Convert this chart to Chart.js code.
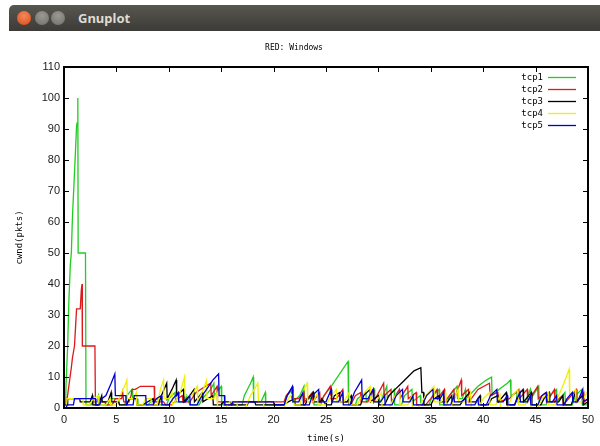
<!DOCTYPE html>
<html>
<head>
<meta charset="utf-8">
<title>Gnuplot</title>
<script src="https://cdn.jsdelivr.net/npm/chart.js@4"></script>
<style>
body{
    margin:0;
    width:600px;
    height:446px;
    overflow:hidden;
    position:relative;
    background:#fff;
}
#bar{
    position:absolute;
    left:9px;
    top:5px;
    width:591px;
    height:26px;
    background:linear-gradient(#57564f,#3c3b37);
    border-radius:5px 0 0 0;
}
.btn{
    position:absolute;
    top:6px;
    width:14px;
    height:14px;
    border-radius:50%;
}
#close{ left:8px; background:radial-gradient(circle at 50% 35%,#f58a5c,#dd4814); }
#min{ left:26px; background:radial-gradient(circle at 50% 35%,#9a9993,#6f6e69); }
#max{ left:42px; background:radial-gradient(circle at 50% 35%,#9a9993,#6f6e69); }
#name{
    position:absolute;
    left:69px;
    top:4px;
    font:bold 13px "Noto Sans";
    color:#dfdbd2;
}
#wrap{
    position:absolute;
    left:0;
    top:31px;
    width:600px;
    height:415px;
}
</style>
</head>
<body>
<div id="bar">
    <div class="btn" id="close"></div>
    <div class="btn" id="min"></div>
    <div class="btn" id="max"></div>
    <div id="name">Gnuplot</div>
</div>
<div id="wrap"><canvas id="cwndChart"></canvas></div>
<script>

// [time (s), cwnd (pkts)] per flow
let tcp1 = [
    [0,1],[0.15,1],[0.2,8],[0.35,20],[0.46,34],[0.6,46],[0.7,50],[0.81,62],[0.95,72],
    [1.07,81],[1.2,91],[1.25,92],[1.32,100],[1.35,50],[2.05,50],[2.1,1],[2.6,1],
    [2.7,2],[3.2,2],[3.3,4],[3.5,1],[4.2,1],[4.4,3],[5.2,3],[5.3,1],[5.8,1],[6.0,4],
    [6.5,6],[6.55,3],[7.0,3],[7.05,1],[8.0,1],[8.3,2],[9.0,3],[9.05,1],[9.8,1],
    [10.0,3],[10.6,5],[10.65,2],[11.5,2],[11.7,4],[12.0,1],[12.9,1],[13.2,3],
    [14.0,6],[14.3,8],[14.35,4],[15.0,7],[15.05,1],[17.0,1],[17.2,4],[17.8,8],
    [18.05,10],[18.1,2],[18.8,2],[19.2,5],[19.25,1],[21.0,1],[21.3,4],[21.8,6],
    [21.85,2],[22.5,4],[22.9,7],[22.95,3],[23.5,3],[23.8,5],[23.85,1],[24.5,1],
    [24.8,4],[25.5,7],[26.3,11],[27.1,15],[27.15,1],[27.8,1],[28.0,3],[28.8,5],
    [28.85,2],[29.6,6],[29.65,2],[30.2,2],[30.8,7],[30.85,3],[31.5,6],[31.55,1],
    [32.2,1],[32.5,4],[33.2,6],[33.25,2],[34.0,4],[34.05,1],[34.8,1],[35.2,4],
    [35.8,6],[35.85,1],[36.5,1],[36.8,4],[37.5,7],[37.55,3],[38.0,3],[38.3,6],
    [38.35,3],[39.5,7],[40.3,9],[40.8,10],[40.85,4],[41.5,6],[42.3,8],[42.6,9],
    [42.65,4],[43.2,5],[43.25,2],[44.0,2],[44.5,6],[44.55,3],[45.3,7],[45.35,1],
    [46.0,1],[46.4,4],[47.0,6],[47.05,2],[47.8,5],[47.85,1],[48.5,1],[48.8,4],
    [49.4,6],[49.45,1],[50,1]
]

let tcp2 = [
    [0,1],[0.2,1],[0.3,3],[0.5,8],[0.7,13],[0.8,16],[1.0,20],[1.1,26],[1.2,32],
    [1.55,32],[1.65,38],[1.72,40],[1.75,20],[2.95,20],[3.0,1],[3.3,1],[3.4,2],
    [3.9,2],[4.0,1],[4.6,1],[4.9,3],[5.5,3],[5.6,5],[5.7,2],[6.2,2],[6.4,4],
    [6.5,6],[6.8,6],[7.3,7],[8.6,7],[8.65,2],[9.5,2],[9.7,1],[10.3,1],[10.8,3],
    [11.3,4],[11.35,2],[12.0,2],[12.6,5],[13.5,7],[14.0,8],[14.05,4],[14.6,7],
    [14.65,2],[15.2,2],[15.3,1],[16.0,1],[16.3,2],[21.0,2],[21.2,4],[21.7,6],
    [21.75,3],[22.4,3],[22.9,5],[22.95,2],[23.7,5],[23.75,2],[24.4,5],[24.45,2],
    [25.4,7],[25.45,3],[26.0,3],[26.6,6],[26.65,2],[27.5,2],[27.8,4],[28.3,5],
    [28.35,2],[29.0,2],[29.5,6],[29.55,2],[30.5,8],[30.55,4],[31.2,6],[31.25,2],
    [32.0,6],[32.05,3],[32.8,7],[32.85,3],[33.6,5],[33.65,1],[34.5,1],[35.0,3],
    [35.6,6],[35.65,3],[36.3,6],[36.35,2],[37.2,6],[37.25,3],[37.9,9],[37.95,4],
    [38.6,6],[38.65,2],[39.5,6],[40.6,8],[40.65,4],[41.4,5],[41.45,2],[42.5,3],
    [43.4,6],[43.45,3],[44.2,6],[44.25,2],[45.2,7],[45.25,3],[46.0,5],[46.05,2],
    [46.8,6],[46.85,2],[47.6,4],[47.65,1],[48.4,4],[48.9,6],[48.95,2],[49.6,5],
    [49.65,2],[50,3]
]

let tcp3 = [
    [0,1],[0.3,1],[0.35,3],[1.5,3],[1.55,2],[2.5,2],[2.7,4],[2.75,1],[3.3,1],
    [3.6,4],[3.65,2],[4.2,2],[4.5,5],[4.55,2],[5.2,2],[5.3,1],[6.0,1],[6.2,3],
    [6.9,3],[6.95,1],[7.5,1],[8.0,2],[8.5,3],[8.55,1],[9.0,1],[9.3,4],[9.8,8],
    [9.85,3],[10.3,6],[10.7,9],[10.75,4],[11.4,6],[11.45,2],[12.0,4],[12.4,6],
    [12.45,2],[13.2,5],[13.25,2],[14.2,4],[14.25,1],[15.0,1],[15.2,2],[15.9,2],
    [16.0,1],[17.5,1],[17.6,2],[18.2,2],[18.3,1],[21.0,1],[21.4,2],[22.0,3],
    [22.05,1],[23.0,1],[23.3,3],[23.8,5],[23.85,2],[24.5,2],[24.6,3],[25.0,1],
    [25.5,1],[25.8,4],[26.3,5],[26.35,2],[27.0,2],[27.4,4],[27.45,1],[28.3,1],
    [28.6,4],[29.2,6],[29.25,2],[30.0,4],[30.05,1],[30.6,1],[31.0,4],[31.6,6],
    [32.2,8],[32.8,10],[33.4,12],[34.05,13],[34.15,5],[34.3,5],[34.35,1],[35.0,1],
    [35.3,3],[35.8,4],[35.85,2],[36.6,2],[37.0,4],[37.05,1],[37.8,1],[38.2,3],
    [38.7,5],[38.75,2],[39.3,2],[39.7,4],[39.75,1],[40.5,1],[40.8,3],[41.4,4],
    [41.45,2],[42.2,5],[42.25,1],[43.0,1],[43.3,4],[43.8,6],[43.85,2],[44.6,5],
    [44.65,1],[45.5,1],[45.8,3],[46.3,5],[46.35,2],[47.2,2],[47.6,4],[47.65,1],
    [48.4,1],[48.8,5],[48.85,2],[49.5,4],[49.55,1],[50,2]
]

let tcp4 = [
    [0,0],[0.2,0],[0.3,3],[1.8,3],[1.85,1],[2.4,1],[2.8,3],[3.3,4],[3.35,1],
    [4.0,1],[4.4,3],[4.45,1],[5.0,1],[5.5,5],[5.9,8],[6.0,9],[6.05,3],[6.6,3],
    [6.9,5],[6.95,1],[7.5,1],[7.8,3],[8.3,3],[8.35,1],[8.9,1],[9.2,6],[9.5,9],
    [9.55,3],[10.0,3],[10.3,5],[10.35,1],[11.0,4],[11.5,10],[11.55,4],[12.2,4],
    [12.7,7],[12.75,2],[13.3,6],[13.6,9],[13.65,3],[14.3,3],[14.6,5],[14.65,0],
    [15.4,0],[15.8,2],[16.5,2],[16.55,0],[17.3,0],[17.8,4],[18.5,8],[18.55,2],
    [19.0,2],[19.1,0],[21.0,0],[21.4,3],[21.9,5],[21.95,1],[22.5,1],[22.9,6],
    [23.2,8],[23.25,2],[23.8,2],[24.2,5],[24.25,1],[25.0,1],[25.5,4],[26.0,6],
    [26.05,2],[26.7,2],[27.2,5],[27.25,1],[28.0,1],[28.4,4],[29.2,7],[29.25,2],
    [29.8,2],[30.3,5],[30.35,0],[31.0,0],[31.6,4],[32.0,5],[32.05,1],[32.8,1],
    [33.2,4],[33.25,0],[33.8,0],[34.5,4],[35.3,7],[35.35,2],[36.0,2],[36.4,5],
    [36.45,1],[37.0,1],[37.6,6],[37.65,2],[38.5,2],[38.8,5],[38.85,0],[39.5,0],
    [40.0,3],[40.6,5],[40.65,1],[41.2,1],[41.6,4],[41.65,0],[42.3,0],[42.8,4],
    [43.3,6],[43.35,1],[44.0,1],[44.5,4],[44.55,0],[45.2,0],[45.6,3],[46.2,5],
    [46.25,1],[46.9,1],[47.2,4],[47.7,8],[48.2,12.5],[48.25,4],[48.8,6],[48.85,2],
    [49.4,2],[49.9,5],[50,5]
]

let tcp5 = [
    [0,0],[0.2,0],[0.3,1],[0.9,1],[1.0,3],[3.0,3],[3.05,1],[3.4,1],[3.6,3],
    [4.0,4],[4.5,8],[4.85,11],[4.9,4],[5.9,4],[5.95,1],[6.6,1],[6.7,4],[7.8,4],
    [7.85,1],[8.5,1],[8.8,3],[9.3,4],[9.35,1],[10.0,1],[10.4,3],[10.9,5],
    [10.95,2],[11.6,2],[12.0,4],[12.05,1],[12.7,1],[13.0,3],[13.6,6],[14.2,9],
    [14.75,11],[14.8,4],[15.3,4],[15.35,1],[16.0,1],[16.1,2],[20.0,2],[20.05,1],
    [21.0,1],[21.3,4],[21.8,7],[21.85,2],[22.4,2],[22.8,5],[22.85,1],[23.4,1],
    [23.7,4],[24.3,6],[24.35,2],[25.0,2],[25.5,6],[25.55,2],[26.2,2],[26.6,5],
    [26.65,1],[27.3,1],[27.7,5],[28.4,9],[28.45,3],[29.0,3],[29.5,6],[29.55,2],
    [30.2,2],[30.6,4],[30.65,1],[31.3,1],[31.7,4],[32.3,6],[32.35,2],[33.0,2],
    [33.3,4],[33.35,1],[34.2,1],[34.6,4],[35.2,6],[35.25,3],[35.9,3],[36.2,5],
    [36.25,1],[36.9,1],[37.2,4],[37.25,2],[37.9,2],[38.3,3],[38.35,1],[39.2,1],
    [39.5,3],[39.55,1],[40.3,1],[40.7,4],[41.3,6],[41.35,2],[41.9,2],[42.3,4],
    [42.35,1],[43.0,1],[43.5,5],[43.55,2],[44.2,2],[44.5,4],[44.55,1],[45.2,1],
    [45.6,4],[46.0,5],[46.05,2],[46.6,2],[47.0,4],[47.05,1],[47.7,1],[48.0,3],
    [48.5,5],[48.55,2],[49.0,2],[49.5,6],[49.55,2],[50,3]
]

let flowNames = ['tcp1','tcp2','tcp3','tcp4','tcp5']
let flowData = [tcp1, tcp2, tcp3, tcp4, tcp5]
let flowColors = ['#22cc22','#dd1a1a','#000000','#f0f000','#0000d0']

let monoFont = '"DejaVu Sans Mono", monospace'
let sansFont = '"Liberation Sans", Arial, sans-serif'

// gnuplot style box: heavy border, inward ticks on all sides, key top right
let gnuplotFrame = {
    id:'gnuplotFrame',
    afterDatasetsDraw(chart){

        let ctx = chart.ctx
        let a = chart.chartArea
        let xs = chart.scales.x
        let ys = chart.scales.y

        ctx.save()
        ctx.strokeStyle = '#000'
        ctx.lineWidth = 1
        ctx.beginPath()

        xs.ticks.forEach(t => {
            let px = Math.round(xs.getPixelForValue(t.value)) + 0.5
            ctx.moveTo(px, a.bottom)
            ctx.lineTo(px, a.bottom - 5)
            ctx.moveTo(px, a.top)
            ctx.lineTo(px, a.top + 5)
        })

        ys.ticks.forEach(t => {
            let py = Math.round(ys.getPixelForValue(t.value)) + 0.5
            ctx.moveTo(a.left, py)
            ctx.lineTo(a.left + 5, py)
            ctx.moveTo(a.right, py)
            ctx.lineTo(a.right - 5, py)
        })

        ctx.stroke()

        ctx.lineWidth = 2
        ctx.strokeRect(a.left, a.top, a.right - a.left, a.bottom - a.top)

        // key
        ctx.font = 'normal 9px ' + monoFont
        ctx.textAlign = 'right'
        ctx.textBaseline = 'middle'

        flowNames.forEach((name, i) => {
            let ky = Math.round(a.top + 10 + i * 12) + 0.5
            ctx.fillStyle = '#000'
            ctx.fillText(name, a.right - 45, ky)
            ctx.strokeStyle = flowColors[i]
            ctx.lineWidth = 1.3
            ctx.beginPath()
            ctx.moveTo(a.right - 40, ky)
            ctx.lineTo(a.right - 12, ky)
            ctx.stroke()
        })

        ctx.restore()
    }
}

let cwndChart =
new Chart(
    document.getElementById('cwndChart'),
    {
        type:'line',
        data:{
            datasets: flowNames.map((name, i) => ({
                label: name,
                data: flowData[i].map(p => ({ x: p[0], y: p[1] })),
                borderColor: flowColors[i],
                borderWidth: 1.3,
                pointRadius: 0,
                tension: 0,
                fill: false,
                order: flowNames.length - i
            }))
        },
        options:{
            responsive: true,
            maintainAspectRatio: false,
            animation: false,
            events: [],
            layout:{
                padding:{ left: 0, right: 12, top: 0, bottom: 0 }
            },
            plugins:{
                legend:{ display: false },
                tooltip:{ enabled: false },
                title:{
                    display: true,
                    text: 'RED: Windows',
                    color: '#000',
                    font:{ family: monoFont, size: 8, weight: 'normal', lineHeight: 1.2 },
                    padding:{ top: 12.5, bottom: 13.9 }
                }
            },
            scales:{
                x:{
                    type: 'linear',
                    min: 0,
                    max: 50,
                    afterFit: s => { s.height = 38 },
                    grid:{ display: false, drawTicks: false },
                    border:{ display: false },
                    ticks:{
                        stepSize: 5,
                        padding: 5,
                        color: '#222',
                        maxRotation: 0,
                        font:{ family: sansFont, size: 11 }
                    },
                    title:{
                        display: true,
                        text: 'time(s)',
                        color: '#000',
                        font:{ family: monoFont, size: 9, weight: 'normal', lineHeight: 1.2 },
                        padding:{ top: 0, bottom: 2 }
                    }
                },
                y:{
                    type: 'linear',
                    min: 0,
                    max: 110,
                    afterFit: s => { s.width = 64 },
                    grid:{ display: false, drawTicks: false },
                    border:{ display: false },
                    ticks:{
                        stepSize: 10,
                        padding: 4,
                        color: '#222',
                        font:{ family: sansFont, size: 11 }
                    },
                    title:{
                        display: true,
                        text: 'cwnd(pkts)',
                        color: '#000',
                        font:{ family: monoFont, size: 9, weight: 'normal', lineHeight: 1.2 },
                        padding:{ top: 14.6, bottom: 0 }
                    }
                }
            }
        },
        plugins:[gnuplotFrame]
    }
)

</script>
</body>
</html>
